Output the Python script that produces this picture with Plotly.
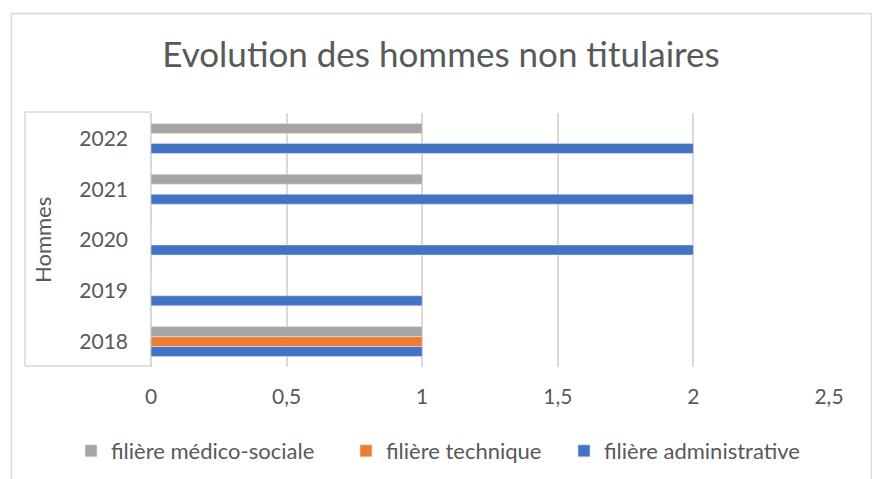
import plotly.graph_objects as go

years = ["2018", "2019", "2020", "2021", "2022"]
administrative = [1, 1, 2, 2, 2]
technique = [1, 0, 0, 0, 0]
medico_sociale = [1, 0, 0, 1, 1]
x_ticks = [0, 0.5, 1, 1.5, 2, 2.5]
x_tick_labels = ["0", "0,5", "1", "1,5", "2", "2,5"]

OFF = 8  # default page body margin
W, H = 880 - OFF, 479 - OFF
# reference pixel positions of the plot area
PL, PR, PT, PB = 151, 829, 113, 367
L, R, T, B = PL - OFF, W - (PR - OFF), PT - OFF, H - (PB - OFF)
pw, ph = W - L - R, H - T - B

def px(x):
    return (x - OFF - L) / pw

def py(y):
    return (H - B - (y - OFF)) / ph

def cx(x):
    return (x - OFF) / W

def cy(y):
    return 1 - (y - OFF) / H

FONT = "Lato"
TXT = "#595959"
GRID = "#d9d9d9"

fig = go.Figure()
fig.add_trace(go.Bar(y=years, x=administrative, orientation="h",
                     name="filière administrative", marker_color="#4472C4",
                     legend="legend3"))
fig.add_trace(go.Bar(y=years, x=technique, orientation="h",
                     name="filière technique", marker_color="#ED7D31",
                     legend="legend2"))
fig.add_trace(go.Bar(y=years, x=medico_sociale, orientation="h",
                     name="filière médico-sociale", marker_color="#A5A5A5",
                     legend="legend"))

def leg(xpix):
    return dict(orientation="h", xref="container", yref="container",
                x=cx(xpix), xanchor="left", y=cy(451), yanchor="middle",
                font=dict(size=22, color=TXT), itemwidth=30,
                bgcolor="rgba(0,0,0,0)")

fig.update_layout(
    width=W, height=H,
    margin=dict(l=L, r=R, t=T, b=B, autoexpand=False),
    paper_bgcolor="white", plot_bgcolor="white",
    barmode="group", bargap=0.41, bargroupgap=0,
    font=dict(family=FONT, color=TXT, size=20),
    title=dict(text="Evolution des hommes non titulaires",
               x=cx(441), xanchor="center", y=cy(55), yanchor="middle",
               font=dict(family=FONT, size=35, color=TXT)),
    xaxis=dict(range=[0, 2.5], tickvals=x_ticks, ticktext=x_tick_labels,
               showgrid=True, gridcolor=GRID, gridwidth=1.5,
               zeroline=True, zerolinecolor=GRID, zerolinewidth=1.5,
               showline=False, ticks="", ticklabelstandoff=15,
               tickfont=dict(size=21, color=TXT), fixedrange=True),
    yaxis=dict(type="category", categoryorder="array", categoryarray=years,
               showgrid=False, zeroline=False, showline=False, ticks="",
               ticklabelstandoff=22,
               tickfont=dict(size=21, color=TXT), fixedrange=True),
    legend=leg(111 - 40),
    legend2=leg(386 - 40),
    legend3=leg(604 - 40),
    showlegend=True,
)

fig.add_annotation(text="Hommes", textangle=-90, xref="paper", yref="paper",
                   x=px(42), y=py(240), xanchor="center", yanchor="middle",
                   showarrow=False, font=dict(size=22, color=TXT, family=FONT))

line = dict(color=GRID, width=1.5)
shapes = [
    dict(type="line", xref="paper", yref="paper", x0=px(25), x1=px(25), y0=py(112), y1=py(366), line=line),
    dict(type="line", xref="paper", yref="paper", x0=px(25), x1=px(151), y0=py(112), y1=py(112), line=line),
    dict(type="line", xref="paper", yref="paper", x0=px(25), x1=px(151), y0=py(366), y1=py(366), line=line),
    dict(type="rect", xref="paper", yref="paper", x0=px(11.5), x1=px(871.5), y0=py(13.5), y1=py(495),
         line=dict(color="#d9d9d9", width=1.5), fillcolor="rgba(0,0,0,0)"),
]
fig.update_layout(shapes=shapes)

fig.write_html("out.html")
